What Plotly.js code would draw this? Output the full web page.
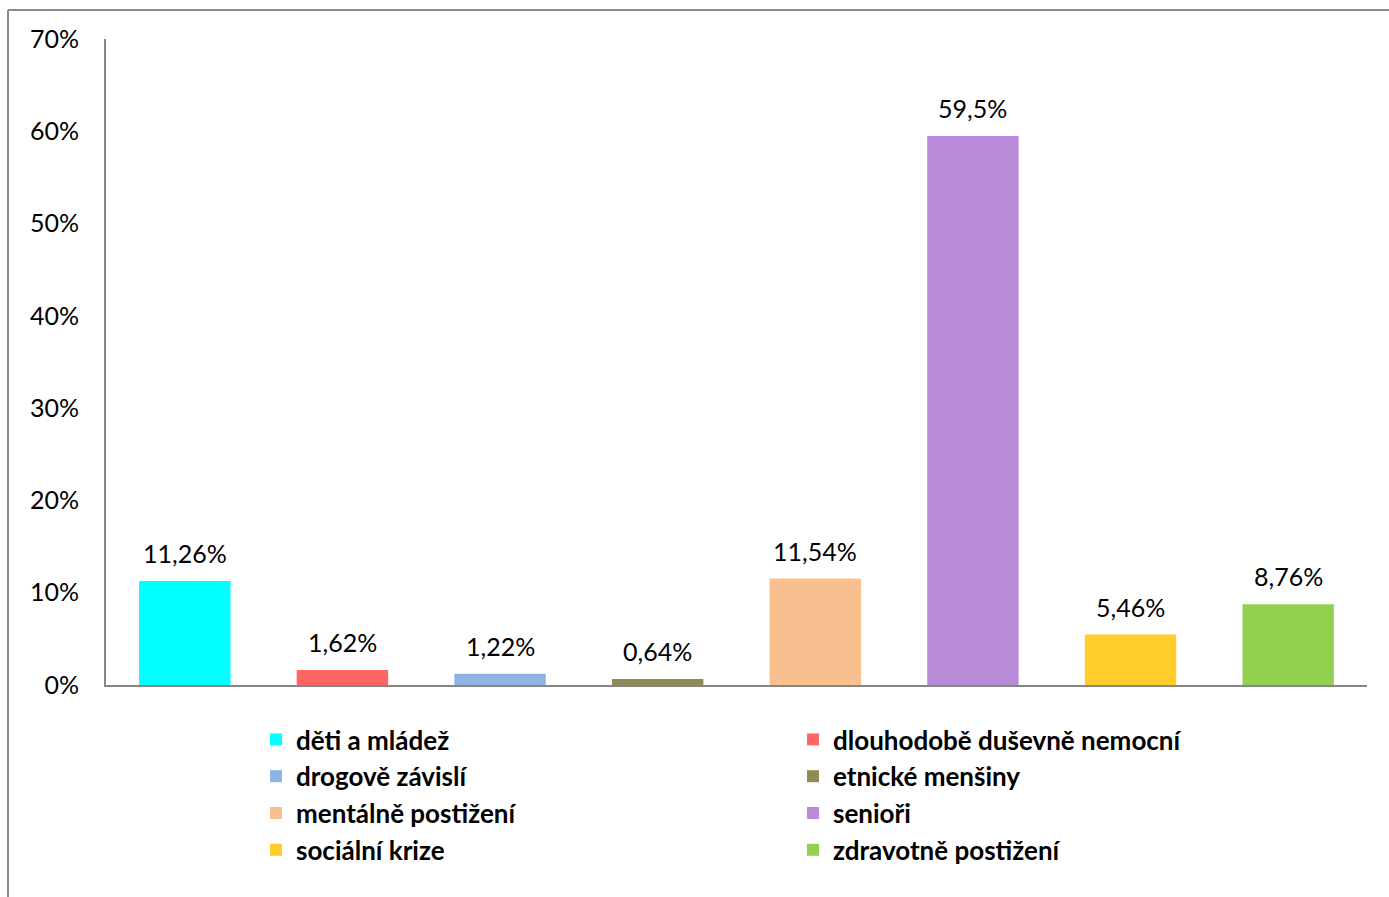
<!DOCTYPE html>
<html>
<head>
<meta charset="utf-8">
<script src="https://cdn.plot.ly/plotly-3.0.1.min.js"></script>
<style>html,body{margin:0;padding:0;background:#fff;}#chart{width:1389px;height:897px;}</style>
</head>
<body>
<div id="chart"></div>
<script>
const categories = ["děti a mládež", "dlouhodobě duševně nemocní", "drogově závislí", "etnické menšiny",
  "mentálně postižení", "senioři", "sociální krize", "zdravotně postižení"];
const values = [11.26, 1.62, 1.22, 0.64, 11.54, 59.5, 5.46, 8.76];
const labels = ["11,26%", "1,62%", "1,22%", "0,64%", "11,54%", "59,5%", "5,46%", "8,76%"];
const colors = ["#00FFFF", "#FF6565", "#8EB4E3", "#938953", "#F9BF8F", "#B88AD8", "#FFCC2A", "#92D050"];
const tickVals = [0, 10, 20, 30, 40, 50, 60, 70];
const tickText = ["0%", "10%", "20%", "30%", "40%", "50%", "60%", "70%"];

const FONT = "Lato, 'Open Sans', sans-serif";

const traces = categories.map((c, i) => ({
  type: "bar",
  name: c,
  x: [c],
  y: [values[i]],
  marker: {color: colors[i]},
  width: 0.58,
  hoverinfo: "skip"
}));

const annotations = categories.map((c, i) => ({
  x: c, y: values[i], xref: "x", yref: "y",
  text: labels[i], showarrow: false, yanchor: "middle", yshift: 28,
  font: {family: FONT, size: 25, color: "#000"}
}));

const L = 106, R = 22, T = 39, B = 212, W = 1389, H = 897;
const pw = W - L - R, ph = H - T - B;
const px = v => (v - L) / pw;
const py = v => (H - B - v) / ph;
const shapes = [
  {type: "line", xref: "paper", yref: "paper", x0: px(8), x1: px(8), y0: py(10), y1: py(897), line: {color: "#8c8c8c", width: 2}},
  {type: "line", xref: "paper", yref: "paper", x0: px(8), x1: px(1389), y0: py(10), y1: py(10), line: {color: "#8c8c8c", width: 2}}
];

const layout = {
  width: W, height: H,
  margin: {l: L, r: R, t: T, b: B, autoexpand: false},
  paper_bgcolor: "#fff", plot_bgcolor: "#fff",
  font: {family: FONT, color: "#000"},
  showlegend: true,
  barmode: "group",
  bargap: 0.42,
  xaxis: {
    type: "category", categoryarray: categories, showticklabels: false,
    showline: true, linecolor: "#868686", linewidth: 2, ticks: "", showgrid: false, zeroline: false,
    range: [-0.5, 7.5]
  },
  yaxis: {
    range: [0, 70], tickvals: tickVals, ticktext: tickText,
    showline: true, linecolor: "#868686", linewidth: 2, ticks: "", showgrid: false, zeroline: false,
    tickfont: {family: FONT, size: 25, color: "#000"}, ticklabelstandoff: 20
  },
  legend: {
    orientation: "h", x: px(256), xanchor: "left", y: py(716), yanchor: "top",
    entrywidth: 492, entrywidthmode: "pixels",
    font: {family: FONT, size: 26, color: "#000", weight: "bold"},
    traceorder: "normal", itemclick: false
  },
  annotations: annotations,
  shapes: shapes
};

Plotly.newPlot("chart", traces, layout, {displayModeBar: false, staticPlot: true});
</script>
</body>
</html>
